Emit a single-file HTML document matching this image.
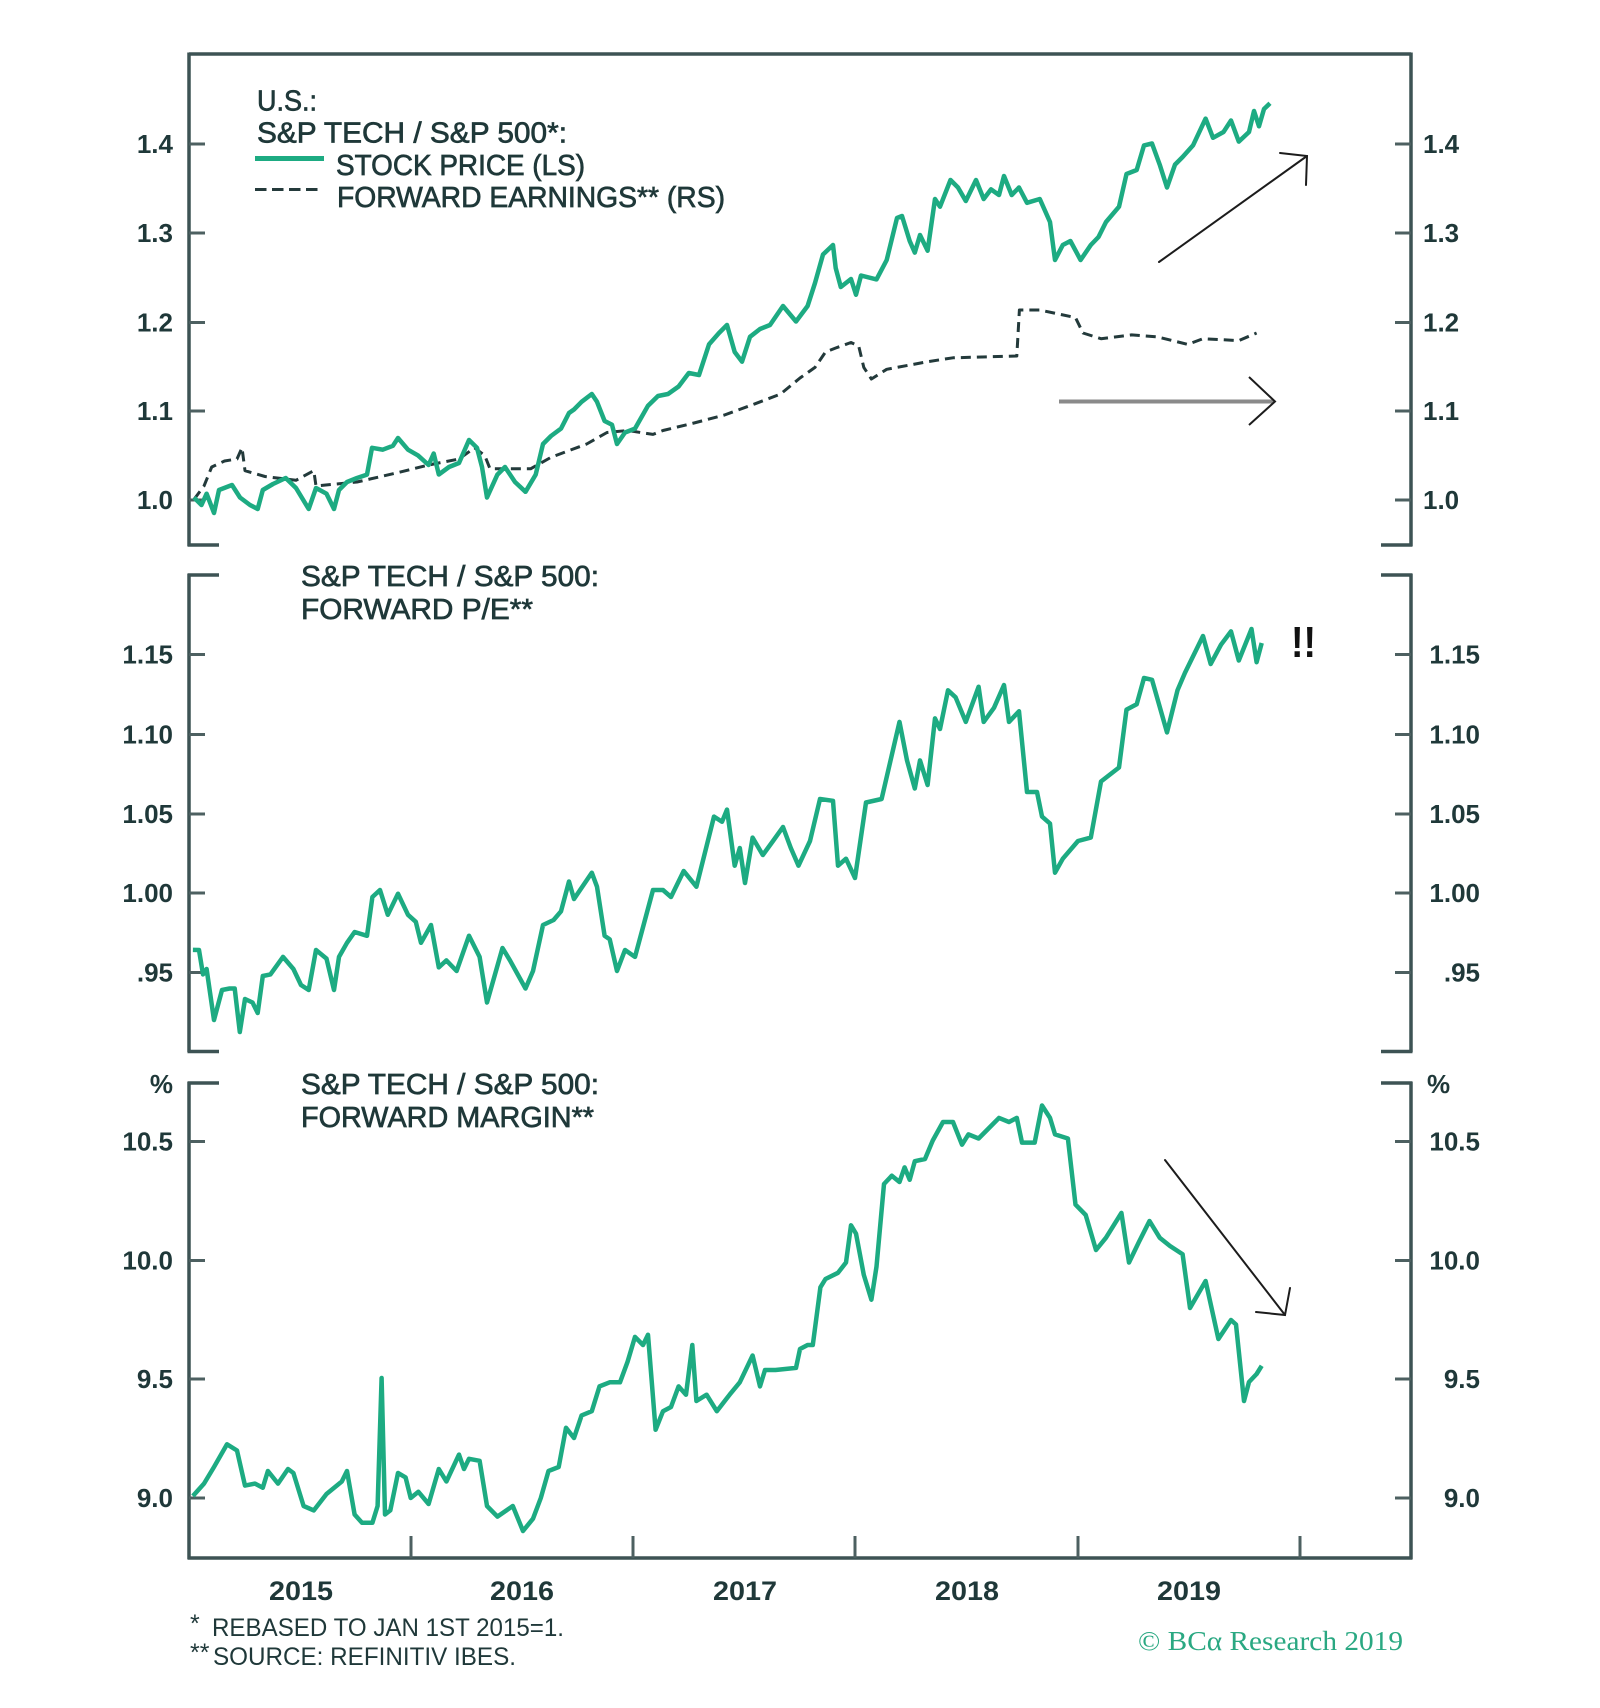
<!DOCTYPE html>
<html>
<head>
<meta charset="utf-8">
<style>
  html,body{margin:0;padding:0;background:#fff;}
  svg{display:block;}
  .t{font-family:"Liberation Sans",sans-serif;fill:#1f3839;}
  .tt{font-family:"Liberation Sans",sans-serif;fill:#1f3839;stroke:#1f3839;stroke-width:0.7;}
  .tk{font-family:"Liberation Sans",sans-serif;fill:#1f3839;font-weight:bold;font-size:26px;}
</style>
</head>
<body>
<svg width="1600" height="1708" viewBox="0 0 1600 1708" xmlns="http://www.w3.org/2000/svg">
  <rect width="1600" height="1708" fill="#fff"/>

  <!-- ===== Axes / frames ===== -->
  <g stroke="#3d5354" stroke-width="3.5" fill="none" stroke-linecap="butt">
    <!-- panel 1 -->
    <line x1="189" y1="54" x2="1411" y2="54"/>
    <line x1="189" y1="52.5" x2="189" y2="546"/>
    <line x1="1411" y1="52.5" x2="1411" y2="546"/>
    <line x1="187.5" y1="545" x2="219" y2="545"/>
    <line x1="1381" y1="545" x2="1412.5" y2="545"/>
    <!-- panel 2 -->
    <line x1="189" y1="574" x2="189" y2="1052"/>
    <line x1="1411" y1="574" x2="1411" y2="1052"/>
    <line x1="187.5" y1="575" x2="219" y2="575"/>
    <line x1="1381" y1="575" x2="1412.5" y2="575"/>
    <line x1="187.5" y1="1051.5" x2="219" y2="1051.5"/>
    <line x1="1381" y1="1051.5" x2="1412.5" y2="1051.5"/>
    <!-- panel 3 -->
    <line x1="189" y1="1082" x2="189" y2="1559"/>
    <line x1="1411" y1="1082" x2="1411" y2="1559"/>
    <line x1="187.5" y1="1083" x2="219" y2="1083"/>
    <line x1="1381" y1="1083" x2="1412.5" y2="1083"/>
    <line x1="187.5" y1="1558" x2="1412.5" y2="1558"/>
  </g>

  <!-- y ticks -->
  <g stroke="#4d6061" stroke-width="3">
    <!-- panel 1 -->
    <line x1="189" y1="144" x2="205" y2="144"/><line x1="1395" y1="144" x2="1411" y2="144"/>
    <line x1="189" y1="233" x2="205" y2="233"/><line x1="1395" y1="233" x2="1411" y2="233"/>
    <line x1="189" y1="322.5" x2="205" y2="322.5"/><line x1="1395" y1="322.5" x2="1411" y2="322.5"/>
    <line x1="189" y1="411" x2="205" y2="411"/><line x1="1395" y1="411" x2="1411" y2="411"/>
    <line x1="189" y1="500" x2="205" y2="500"/><line x1="1395" y1="500" x2="1411" y2="500"/>
    <!-- panel 2 -->
    <line x1="189" y1="654.5" x2="205" y2="654.5"/><line x1="1395" y1="654.5" x2="1411" y2="654.5"/>
    <line x1="189" y1="734.5" x2="205" y2="734.5"/><line x1="1395" y1="734.5" x2="1411" y2="734.5"/>
    <line x1="189" y1="814" x2="205" y2="814"/><line x1="1395" y1="814" x2="1411" y2="814"/>
    <line x1="189" y1="893" x2="205" y2="893"/><line x1="1395" y1="893" x2="1411" y2="893"/>
    <line x1="189" y1="972.5" x2="205" y2="972.5"/><line x1="1395" y1="972.5" x2="1411" y2="972.5"/>
    <!-- panel 3 -->
    <line x1="189" y1="1141.5" x2="205" y2="1141.5"/><line x1="1395" y1="1141.5" x2="1411" y2="1141.5"/>
    <line x1="189" y1="1260.5" x2="205" y2="1260.5"/><line x1="1395" y1="1260.5" x2="1411" y2="1260.5"/>
    <line x1="189" y1="1379" x2="205" y2="1379"/><line x1="1395" y1="1379" x2="1411" y2="1379"/>
    <line x1="189" y1="1498" x2="205" y2="1498"/><line x1="1395" y1="1498" x2="1411" y2="1498"/>
    <!-- x ticks -->
    <line x1="411" y1="1536" x2="411" y2="1558"/>
    <line x1="633" y1="1536" x2="633" y2="1558"/>
    <line x1="855" y1="1536" x2="855" y2="1558"/>
    <line x1="1078" y1="1536" x2="1078" y2="1558"/>
    <line x1="1300" y1="1536" x2="1300" y2="1558"/>
  </g>

  <!-- ===== Tick labels ===== -->
  <g class="tk" text-anchor="end">
    <text x="173" y="153">1.4</text>
    <text x="173" y="242">1.3</text>
    <text x="173" y="331.5">1.2</text>
    <text x="173" y="420">1.1</text>
    <text x="173" y="509">1.0</text>

    <text x="173" y="663.5">1.15</text>
    <text x="173" y="743.5">1.10</text>
    <text x="173" y="823">1.05</text>
    <text x="173" y="902">1.00</text>
    <text x="173" y="981.5">.95</text>

    <text x="173" y="1093">%</text>
    <text x="173" y="1150.5">10.5</text>
    <text x="173" y="1269.5">10.0</text>
    <text x="173" y="1388">9.5</text>
    <text x="173" y="1507">9.0</text>

    <text x="1480" y="663.5">1.15</text>
    <text x="1480" y="743.5">1.10</text>
    <text x="1480" y="823">1.05</text>
    <text x="1480" y="902">1.00</text>
    <text x="1480" y="981.5">.95</text>

    <text x="1480" y="1150.5">10.5</text>
    <text x="1480" y="1269.5">10.0</text>
    <text x="1480" y="1388">9.5</text>
    <text x="1480" y="1507">9.0</text>
  </g>
  <g class="tk" text-anchor="start">
    <text x="1423" y="153">1.4</text>
    <text x="1423" y="242">1.3</text>
    <text x="1423" y="331.5">1.2</text>
    <text x="1423" y="420">1.1</text>
    <text x="1423" y="509">1.0</text>
    <text x="1427" y="1093">%</text>
  </g>

  <!-- year labels -->
  <g class="tk" text-anchor="middle" style="font-size:27px">
    <text x="301" y="1600" textLength="64" lengthAdjust="spacingAndGlyphs">2015</text>
    <text x="522" y="1600" textLength="64" lengthAdjust="spacingAndGlyphs">2016</text>
    <text x="745" y="1600" textLength="64" lengthAdjust="spacingAndGlyphs">2017</text>
    <text x="967" y="1600" textLength="64" lengthAdjust="spacingAndGlyphs">2018</text>
    <text x="1189" y="1600" textLength="64" lengthAdjust="spacingAndGlyphs">2019</text>
  </g>

  <!-- ===== Legend / titles ===== -->
  <g class="tt" style="font-size:29px">
    <text x="257" y="110.5" textLength="60" lengthAdjust="spacingAndGlyphs">U.S.:</text>
    <text x="257" y="142.5" textLength="310" lengthAdjust="spacingAndGlyphs">S&amp;P TECH / S&amp;P 500*:</text>
    <text x="336" y="175" textLength="249" lengthAdjust="spacingAndGlyphs">STOCK PRICE (LS)</text>
    <text x="337" y="207" textLength="388" lengthAdjust="spacingAndGlyphs">FORWARD EARNINGS** (RS)</text>

    <text x="301" y="586" textLength="298" lengthAdjust="spacingAndGlyphs">S&amp;P TECH / S&amp;P 500:</text>
    <text x="301" y="619" textLength="232" lengthAdjust="spacingAndGlyphs">FORWARD P/E**</text>

    <text x="301" y="1094" textLength="298" lengthAdjust="spacingAndGlyphs">S&amp;P TECH / S&amp;P 500:</text>
    <text x="301" y="1127" textLength="293" lengthAdjust="spacingAndGlyphs">FORWARD MARGIN**</text>
  </g>
  <line x1="255" y1="158.5" x2="324" y2="158.5" stroke="#1dab82" stroke-width="5"/>
  <line x1="255" y1="189.5" x2="318" y2="189.5" stroke="#243a3b" stroke-width="3" stroke-dasharray="11.5 5.5"/>

  <!-- footnotes -->
  <g class="t" style="font-size:25px">
    <text x="190" y="1632">*</text>
    <text x="212" y="1636" textLength="352" lengthAdjust="spacingAndGlyphs">REBASED TO JAN 1ST 2015=1.</text>
    <text x="190" y="1661">**</text>
    <text x="213" y="1665" textLength="303" lengthAdjust="spacingAndGlyphs">SOURCE: REFINITIV IBES.</text>
  </g>
  <text x="1138" y="1650" textLength="265" lengthAdjust="spacingAndGlyphs" style="font-family:'Liberation Serif',serif;font-size:27px;fill:#2aa882;">© BCα Research 2019</text>

  <!-- ===== Series ===== -->
  <!-- top: forward earnings (dashed) -->
  <polyline fill="none" stroke="#233a3b" stroke-width="3" stroke-dasharray="10 6" stroke-linejoin="round"
    points="194,499.4 204,486 211.7,467 224.5,461 237,459 242,447.8 245,470.7 265,476.5 296,480.3 313.8,470.7 316,486 357,482 398,472.6 428.6,465 459,459 474.5,447.8 484.7,455.4 490,468.8 530.6,468.8 551,457.3 586.7,444 607,432.5 627.6,430.5 653,434.4 663,430.5 694,423 724.5,415 755,403.8 780.6,394 800,378 815,367.4 825.5,352 835.7,348 851,342.5 858.7,346 863.8,367.4 871.4,379 886.7,369.3 927.6,361.7 953,357.8 1016.8,356 1019.4,310 1039.8,310 1075.5,317.6 1083,333 1101,338.7 1131.6,334.9 1157,336.8 1187.8,344.4 1203,338.7 1238.8,340.6 1256.6,333"/>

  <!-- top: stock price -->
  <polyline fill="none" stroke="#1dab82" stroke-width="4.5" stroke-linejoin="round"
    points="194,497.5 201.5,505 206.6,493.7 214,513 219,490 232,485 240,497.5 250,505 257.7,509 262.8,490 273,484 285.7,478 296,488 308.7,509 316,488 326.5,493.7 334,509 339,490 347,482 357,478 367,474.6 372,447.8 382.7,449.7 392.9,445.8 398,438 408,449.7 418,455.4 428.6,465 433.7,453.5 438.8,474.5 449,467 459,463 469,440 477,447.8 482,467 487,497.5 497.4,474.6 505,467 515,482 525.5,491.8 535.7,474.6 543,444 551,436 561,428.6 569,413 574,409.5 581.6,401.8 591.8,394 597,401.8 604.6,421 612,424.8 617,444 625,432.5 635,428.6 648,405.7 658,396 668,394 678.6,386.5 688.8,373 699,375 709,344.4 719,333 727,325 734.7,352 742,361.7 750,336.8 760,329 770,325 783,306 796,321.5 807.6,306 815,283 823,254.5 833,245 835.7,268 840.8,287 851,279 856,294.7 861,275.5 876.5,279.4 886.7,260 897,218 902,216 909.7,241 914.8,252.6 920,235 927.6,250.7 935,199 940,206.7 950.5,180 958,187.5 965.8,201 976,180 983.7,199 991,189.4 999,195 1004,176 1011.7,195 1019,187.5 1027,202.8 1039.8,199 1050,222 1055,260 1062.8,245 1070.4,241 1080.6,260 1090.8,245 1098.5,237 1106,222 1119,206.7 1126.5,174 1136.7,170 1144,145.4 1152,143.5 1159.7,164.6 1167,187.5 1175,164.6 1182.6,157 1193,145.4 1205.6,118.6 1213,137.8 1223.5,132 1231,120.5 1238.8,141.6 1249,132 1254,111 1259,126.3 1264,109 1270,103.3"/>

  <!-- middle: forward P/E -->
  <polyline fill="none" stroke="#1dab82" stroke-width="4.5" stroke-linejoin="round"
    points="192.9,949.9 199,950 203,974.4 206.6,969 214,1020 222,990 229.6,988.5 234.7,988.5 239.8,1032 245,999 252.5,1002.5 257.7,1013 262.8,976 270.4,974.4 283,956.9 293.4,969 301,985 308.7,990 316,950 326.5,958.6 334,990 339,956.9 347,942.8 354.6,932 367,935.8 372.4,897 380,890 387.8,914.8 398,893.7 408,914.8 415.8,921.8 421,942.8 431,925 438.8,967.4 446.4,960.4 456.6,971 469,935.8 479.6,956.9 487,1002.5 502.5,948 510,960.4 525.5,988.5 533,971 543,925 553.6,920 561,911.3 569,881.5 574,899 591.8,872.7 597,886.7 604.6,935.8 609.7,939.3 617,971 625,950 635,956.9 653,890 663,890 671,897 683.7,871 696.4,886.7 714,816.6 722,821.8 727,809.6 734.7,865.7 739.8,848 745,883 752.6,837.6 762.8,855 773,841 783,827 790.8,848 798.5,865.7 810,841 820,799 833,800.8 838,865.7 846,858.7 855,878 866,802.5 881.6,799 899.5,721.9 907,760.4 914.8,788.5 920,760.4 927.6,785 935,718.4 940,729 948,690.3 955.6,697.3 965.8,721.9 978.6,686.8 983.7,721.9 994,707.8 1004,685 1009,721.9 1019,711.3 1027,792 1037,792 1042,816.6 1050,823.6 1055,872.7 1062.8,858.7 1078,841 1090.8,837.6 1101,781.5 1119,767.5 1126.5,709.6 1136.7,704.3 1144,678 1152,679.8 1167,732.4 1177.5,690.3 1185,672.8 1203,636 1210.7,664 1221,644.7 1231,631.4 1238.8,660.5 1251.5,629 1256.6,662.2 1261.7,643"/>

  <!-- bottom: forward margin -->
  <polyline fill="none" stroke="#1dab82" stroke-width="4.5" stroke-linejoin="round"
    points="192.9,1496 204,1483.6 214,1467 227,1444.3 237,1450.5 245,1485.6 255,1483.6 262.8,1487.7 267.9,1471 278,1483.6 288,1469 293.4,1473 303.6,1506 313.8,1510.4 326.5,1494 341.8,1481.5 347,1471 354.6,1514.5 362,1522.8 372.4,1522.8 377.6,1506 381.6,1378 385,1514.5 390.3,1510.4 398,1473 405.6,1477.4 410.7,1498 418.4,1491.8 428.6,1504 438.8,1469 446.4,1481.5 459,1454.6 464,1469 469,1458.8 479.6,1460.8 487,1506 497.4,1516.6 512.8,1506 523,1531 533,1518.7 540.8,1498 548.5,1471 558.7,1467 566,1427.8 574,1438 581.6,1415.4 591.8,1411.2 599.5,1386.4 609.7,1382.3 620,1382.3 627.6,1361.7 635,1336.9 643,1345 648,1334.8 655.6,1429.8 663,1411.2 671,1407 678.6,1386.4 686,1394.7 692.3,1345 696.4,1401 706.6,1394.7 716.8,1411.2 729.6,1394.7 739.8,1382.3 752.6,1355.5 760,1386.4 765,1370 775.5,1370 796,1367.9 800,1349 807.6,1345 812.8,1345 820.4,1287.3 825.5,1279 838,1272.8 846,1262.5 851,1225.3 856,1233.6 863.8,1274.9 871.4,1299.7 876.5,1266.6 884,1184 891.8,1175.7 899.5,1182 904.6,1167.4 909.7,1179.8 914.8,1161.2 925,1159 932.7,1140.6 943,1122 953,1122 962,1144.7 968.4,1134.4 978.6,1138.5 991,1126 999,1117.9 1009,1122 1016.8,1117.9 1022,1142.6 1034.7,1142.6 1042,1105.5 1050,1117.9 1055,1134.4 1067.9,1138.5 1075.5,1204.6 1085.7,1215 1096,1250 1106,1237.7 1121.4,1212.9 1129,1262.5 1139,1241.8 1149.5,1221 1159.7,1237.7 1170,1246 1182.6,1254.2 1190,1308 1205.6,1281 1218.4,1339 1231,1320 1236,1324.5 1244,1401 1249,1382 1256.6,1374 1261.7,1365.8"/>

  <!-- ===== Annotations ===== -->
  <!-- up arrow -->
  <g stroke="#1c1c1c" stroke-width="2" fill="none" stroke-linecap="round">
    <line x1="1159" y1="262" x2="1307" y2="156"/>
    <polyline points="1280,153 1307,156 1306,185"/>
  </g>
  <!-- horizontal arrow -->
  <line x1="1059" y1="401.5" x2="1274" y2="401.5" stroke="#8a8a8a" stroke-width="4"/>
  <polyline points="1249,377 1275,401.5 1249,425" stroke="#1c1c1c" stroke-width="2" fill="none"/>
  <!-- down arrow -->
  <g stroke="#1c1c1c" stroke-width="2" fill="none" stroke-linecap="round">
    <line x1="1165" y1="1160" x2="1285" y2="1315"/>
    <polyline points="1256,1312 1285,1315 1290,1288"/>
  </g>
  <!-- !! -->
  <text x="1291" y="657" textLength="25" lengthAdjust="spacingAndGlyphs" style="font-family:'Liberation Sans',sans-serif;font-weight:bold;font-size:44px;fill:#111;">!!</text>
</svg>
</body>
</html>
